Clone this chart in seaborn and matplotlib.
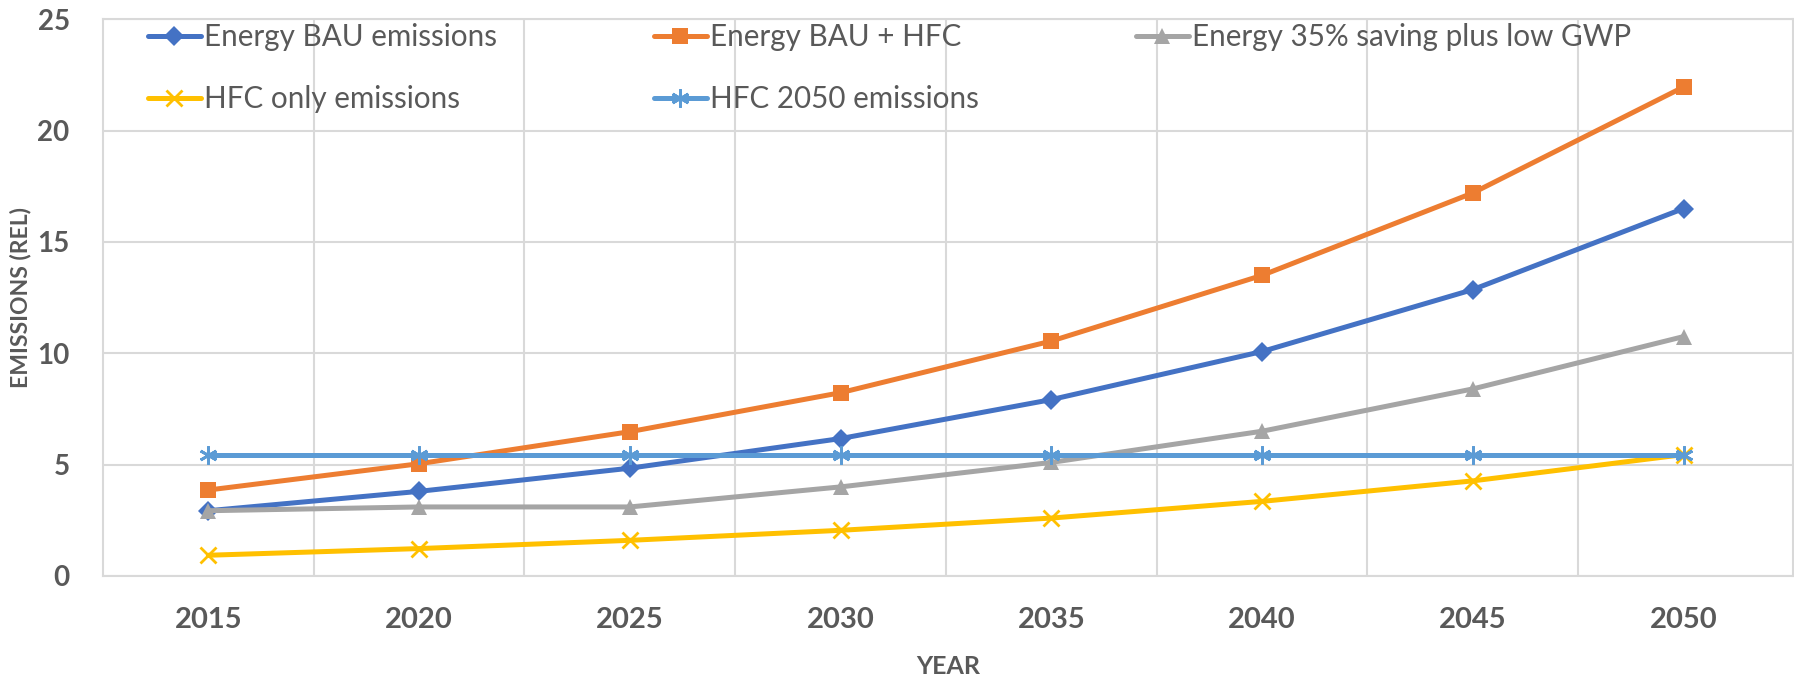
import matplotlib
matplotlib.use('Agg')
import matplotlib.pyplot as plt
import seaborn as sns
from matplotlib.ticker import MultipleLocator

# data
years = [2015, 2020, 2025, 2030, 2035, 2040, 2045, 2050]
energy_bau = [2.93, 3.8, 4.84, 6.17, 7.92, 10.08, 12.86, 16.5]
energy_bau_hfc = [3.86, 5.04, 6.48, 8.23, 10.55, 13.5, 17.2, 21.96]
energy_35_low_gwp = [2.93, 3.1, 3.1, 4.0, 5.1, 6.5, 8.4, 10.75]
hfc_only = [0.93, 1.23, 1.6, 2.05, 2.6, 3.35, 4.27, 5.45]
hfc_2050 = [5.45, 5.45, 5.45, 5.45, 5.45, 5.45, 5.45, 5.45]

series_names = ['Energy BAU emissions', 'Energy BAU + HFC', 'Energy 35% saving plus low GWP',
                'HFC only emissions', 'HFC 2050 emissions']

sns.set_theme(style='white')
plt.rcParams['font.family'] = ['Lato', 'DejaVu Sans']

text_col = '#595959'
grid_col = '#d9d9d9'

fig = plt.figure(figsize=(17.94, 6.8), dpi=100)
ax = fig.add_axes([0.0574, 0.153, 0.9421, 0.8186])

styles = [
    (energy_bau, '#4472C4', 'D', 10),
    (energy_bau_hfc, '#ED7D31', 's', 12),
    (energy_35_low_gwp, '#A5A5A5', '^', 12),
    (hfc_only, '#FFC000', 'x', 12),
    (hfc_2050, '#5B9BD5', (6, 2, 0), 13),
]
for name, (vals, col, mk, ms) in zip(series_names, styles):
    sns.lineplot(x=years, y=vals, ax=ax, color=col, linewidth=3.6, marker=mk,
                 markersize=ms, markeredgewidth=2 if mk in ('x', (6, 2, 0)) else 0,
                 markeredgecolor=col, label=name)

ax.set_xlim(2012.5, 2052.6)
ax.set_ylim(0, 25)
ax.set_xticks(years)
ax.set_xticks([y + 2.5 for y in years[:-1]], minor=True)
ax.yaxis.set_major_locator(MultipleLocator(5))
ax.grid(which='minor', axis='x', color=grid_col, linewidth=1.5)
ax.grid(which='major', axis='y', color=grid_col, linewidth=1.5)
ax.set_axisbelow(True)
for s in ax.spines.values():
    s.set_color(grid_col)
    s.set_linewidth(1.5)
ax.tick_params(axis='x', which='both', length=0, labelsize=21, labelcolor=text_col, pad=22)
ax.tick_params(axis='y', which='both', length=0, labelsize=20, labelcolor=text_col, pad=24)
for lab in ax.get_xticklabels() + ax.get_yticklabels():
    lab.set_fontweight('bold')

ax.set_xlabel('YEAR', fontsize=18, fontweight='bold', color=text_col, labelpad=16)
ax.set_ylabel('EMISSIONS (REL)', fontsize=16.5, fontweight='bold', color=text_col, labelpad=4)

h, l = ax.get_legend_handles_labels()
order = [0, 3, 1, 4, 2]
ax.legend([h[i] for i in order], [l[i] for i in order], ncol=3, loc='upper left',
          bbox_to_anchor=(0.016, 1.025), frameon=False, fontsize=21.3, labelcolor=text_col,
          handlelength=1.8, handletextpad=0.1, columnspacing=5.3, labelspacing=1.15,
          borderaxespad=0.2)

fig.savefig('out.png', dpi=100)
